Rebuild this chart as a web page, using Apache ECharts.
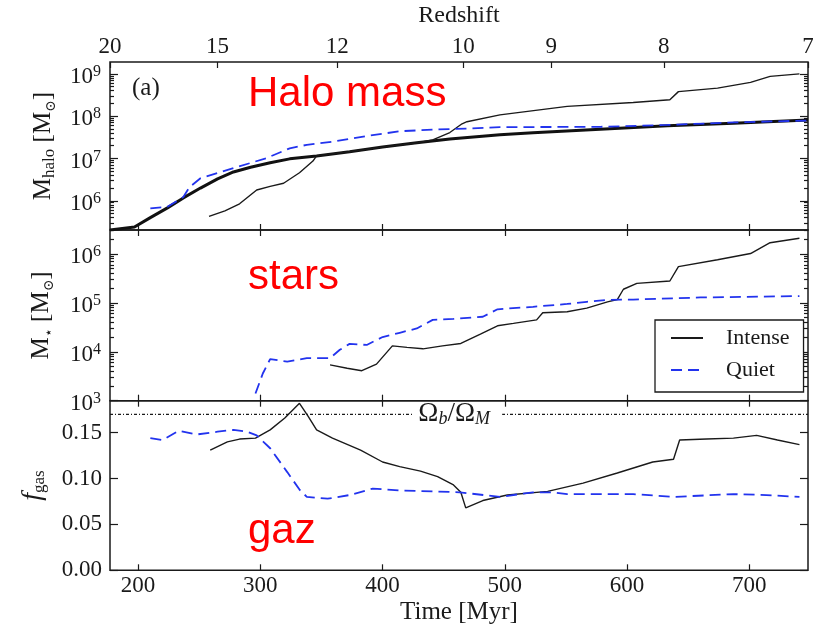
<!DOCTYPE html>
<html><head><meta charset="utf-8">
<script src="https://cdn.jsdelivr.net/npm/echarts@6/dist/echarts.min.js"></script>
<style>html,body{margin:0;padding:0;background:#fff}#c{width:813px;height:628px}</style>
</head><body><div id="c"></div>
<script>
// ---------- axis ticks ----------
const timeTicks = [200, 300, 400, 500, 600, 700];
const redshiftLabels = [20, 15, 12, 10, 9, 8, 7];
const redshiftTimes = [177, 265, 363, 466, 538, 630, 748];
const haloDecades = [6, 7, 8, 9];
const starDecades = [3, 4, 5, 6];
const gasTicks = [0, 0.05, 0.10, 0.15];
const OMEGA_RATIO = 0.17;

// ---------- panel (a): halo mass [Msun] ----------
const haloMeanTime = [177,197,210,224,237,251,265,278,292,308,324,346,373,400,428,455,496,523,578,633,687,748];
const haloMeanMass = [2.05e5,2.4e5,4.0e5,6.8e5,1.17e6,2.0e6,3.3e6,4.8e6,6.2e6,7.9e6,9.8e6,1.15e7,1.45e7,1.86e7,2.34e7,2.88e7,3.63e7,4.07e7,4.9e7,5.9e7,6.8e7,8.1e7];
const haloIntenseTime = [258,271,283,297,308,319,332,343,346,373,400,428,441,455,465,469,496,551,605,635,642,674,701,717,741];
const haloIntenseMass = [4.3e5,5.8e5,8.5e5,1.8e6,2.2e6,2.6e6,4.6e6,8.7e6,1.15e7,1.45e7,1.86e7,2.34e7,2.75e7,4.1e7,6.6e7,7.4e7,1.07e8,1.7e8,2.1e8,2.45e8,3.8e8,4.6e8,6.3e8,8.7e8,1.0e9];
const haloQuietTime = [210,224,237,242,251,278,305,324,338,359,387,414,441,469,496,578,633,687,748];
const haloQuietMass = [6.6e5,7.2e5,1.23e6,2.1e6,3.4e6,5.9e6,1.02e7,1.74e7,2.1e7,2.5e7,3.4e7,4.4e7,4.8e7,5.1e7,5.5e7,5.6e7,6.2e7,7.1e7,7.9e7];

// ---------- stellar mass [Msun] ----------
const starIntenseTime = [357,371,383,395,408,420,433,449,464,480,494,507,526,531,551,567,584,592,597,608,635,642,674,701,717,741];
const starIntenseMass = [5.4e3,4.6e3,4.1e3,5.6e3,1.32e4,1.23e4,1.15e4,1.32e4,1.48e4,2.3e4,3.4e4,3.8e4,4.5e4,6.3e4,6.6e4,7.8e4,1.05e5,1.17e5,1.9e5,2.5e5,2.8e5,5.5e5,7.6e5,1.02e6,1.7e6,2.1e6];
const starQuietTime = [296,302,308,322,338,357,365,373,387,400,414,428,441,458,482,494,523,551,567,584,605,660,741];
const starQuietMass = [1.4e3,3.6e3,7.1e3,6.3e3,7.4e3,7.4e3,1.1e4,1.45e4,1.38e4,2.0e4,2.45e4,3.0e4,4.5e4,4.7e4,5.2e4,7.4e4,8.3e4,9.5e4,1.05e5,1.15e5,1.17e5,1.29e5,1.38e5];

// ---------- gas fraction ----------
const gasIntenseTime = [259,273,283,296,308,320,332,339,346,359,382,400,414,431,445,458,464,468,482,502,535,564,592,621,638,643,665,687,706,723,741];
const gasIntenseFrac = [0.131,0.140,0.143,0.144,0.153,0.166,0.182,0.168,0.153,0.144,0.131,0.118,0.113,0.108,0.102,0.093,0.085,0.068,0.076,0.082,0.086,0.095,0.106,0.118,0.121,0.142,0.143,0.144,0.147,0.142,0.137];
const gasQuietTime = [210,220,233,248,265,278,289,297,308,322,332,338,355,373,392,414,441,463,496,523,539,551,605,638,687,714,741];
const gasQuietFrac = [0.144,0.142,0.152,0.148,0.151,0.153,0.151,0.147,0.133,0.107,0.088,0.080,0.078,0.082,0.089,0.087,0.086,0.085,0.080,0.085,0.085,0.083,0.083,0.080,0.083,0.082,0.080];

// ---------- build chart ----------
const X_MIN = 177, X_MAX = 748;
const SERIF = '"Liberation Serif","Times New Roman",serif';
const INK = '#1a1a1a';
const BLUE = '#2233ee';
const lg = v => Math.log10(v);
const pairs = (ts, vs, f) => ts.map((t, i) => [t, f ? f(vs[i]) : vs[i]]);
const minorLogs = decs => {
  const out = [];
  for (let n = decs[0] - 1; n <= decs[decs.length - 1]; n++)
    for (let k = 2; k <= 9; k++) out.push(Math.log10(k * Math.pow(10, n)));
  return out;
};

const tickStyle = {color: INK, width: 1.2};
const gridBase = {show: true, borderColor: INK, borderWidth: 1.5, backgroundColor: 'transparent', containLabel: false, outerBoundsMode: 'none'};
const grid = [
  Object.assign({left: 110, top: 62, width: 698, height: 168}, gridBase),
  Object.assign({left: 110, top: 230, width: 698, height: 170.7}, gridBase),
  Object.assign({left: 110, top: 400.7, width: 698, height: 169.6}, gridBase)
];
const yRanges = [[5.31, 9.28], [3, 6.49], [0, 0.1848]];

function xAx(gi, pos, extra) {
  return Object.assign({
    type: 'value', gridIndex: gi, position: pos, min: X_MIN, max: X_MAX,
    axisLine: {show: false, onZero: false},
    axisTick: {show: true, inside: true, length: 6, customValues: timeTicks, lineStyle: tickStyle},
    axisLabel: {show: false},
    splitLine: {show: false}
  }, extra || {});
}
const nameStyle = {
  color: INK, fontFamily: SERIF, fontSize: 24,
  rich: {
    n: {fontFamily: SERIF, fontSize: 25, color: INK, lineHeight: 30},
    sub: {fontFamily: SERIF, fontSize: 17, color: INK, lineHeight: 20, verticalAlign: 'bottom'},
    f: {fontFamily: SERIF, fontSize: 28, fontStyle: 'italic', color: INK, lineHeight: 30},
    sym: {fontFamily: '"DejaVu Serif",serif', fontSize: 14, color: INK, lineHeight: 20, verticalAlign: 'bottom'}
  }
};
const powLabel = {
  show: true, margin: 9, padding: [6, 0, 0, 0],
  formatter: v => '{b|10}{s|' + Math.round(v) + '}',
  rich: {
    b: {fontFamily: SERIF, fontSize: 23, color: INK, lineHeight: 26},
    s: {fontFamily: SERIF, fontSize: 16, color: INK, lineHeight: 12, verticalAlign: 'top'}
  }
};
function yAx(gi, pos, range, ticks, len, label, extra) {
  return Object.assign({
    type: 'value', gridIndex: gi, position: pos, min: range[0], max: range[1],
    axisLine: {show: false, onZero: false},
    axisTick: {show: true, inside: true, length: len, customValues: ticks, lineStyle: tickStyle},
    axisLabel: label ? Object.assign({customValues: ticks}, label) : {show: false},
    splitLine: {show: false}
  }, extra || {});
}
const nearestZ = v => {
  let bi = 0;
  redshiftTimes.forEach((t, i) => { if (Math.abs(t - v) < Math.abs(redshiftTimes[bi] - v)) bi = i; });
  return String(redshiftLabels[bi]);
};

const xAxis = [
  xAx(0, 'bottom'),
  xAx(0, 'top', {
    axisTick: {show: true, inside: true, length: 6, customValues: redshiftTimes, lineStyle: tickStyle},
    axisLabel: {show: true, customValues: redshiftTimes, formatter: nearestZ, margin: 4, fontFamily: SERIF, fontSize: 23, color: INK},
    name: 'Redshift', nameLocation: 'middle', nameGap: 34,
    nameTextStyle: {fontFamily: SERIF, fontSize: 24, color: INK}
  }),
  xAx(1, 'bottom'),
  xAx(1, 'top'),
  xAx(2, 'bottom', {
    axisLabel: {show: true, customValues: timeTicks, formatter: v => String(Math.round(v)), margin: 4, fontFamily: SERIF, fontSize: 23, color: INK},
    name: 'Time [Myr]', nameLocation: 'middle', nameGap: 30,
    nameTextStyle: {fontFamily: SERIF, fontSize: 25, color: INK}
  }),
  xAx(2, 'top')
];

const yAxis = [
  yAx(0, 'left', yRanges[0], haloDecades, 8, powLabel, {
    name: '{n|M}{sub|halo}{n| [M}{sym|⊙}{n|]}', nameLocation: 'middle', nameRotate: 90, nameGap: 52, nameTextStyle: nameStyle
  }),
  yAx(0, 'left', yRanges[0], minorLogs(haloDecades), 4, null),
  yAx(0, 'right', yRanges[0], haloDecades, 8, null),
  yAx(0, 'right', yRanges[0], minorLogs(haloDecades), 4, null),
  yAx(1, 'left', yRanges[1], starDecades, 8, powLabel, {
    name: '{n|M}{sym|⋆}{n| [M}{sym|⊙}{n|]}', nameLocation: 'middle', nameRotate: 90, nameGap: 54, nameTextStyle: nameStyle
  }),
  yAx(1, 'left', yRanges[1], minorLogs(starDecades), 4, null),
  yAx(1, 'right', yRanges[1], starDecades, 8, null),
  yAx(1, 'right', yRanges[1], minorLogs(starDecades), 4, null),
  yAx(2, 'left', yRanges[2], gasTicks, 8, {
    show: true, margin: 8, formatter: v => v.toFixed(2), fontFamily: SERIF, fontSize: 23, color: INK
  }, {
    name: '{f|f}{sub|gas}', nameLocation: 'middle', nameRotate: 90, nameGap: 62, nameTextStyle: nameStyle
  }),
  yAx(2, 'right', yRanges[2], gasTicks, 8, null)
];

function line(name, xi, yi, data, color, width, dash, z) {
  return {
    type: 'line', name, xAxisIndex: xi, yAxisIndex: yi, data, symbol: 'none', smooth: false,
    lineStyle: {color, width, type: dash || 'solid'}, itemStyle: {color}, z: z || 2,
    animation: false, silent: true
  };
}
const DASH = [11, 6];

const series = [
  line('Mean halo', 0, 0, pairs(haloMeanTime, haloMeanMass, lg), '#111', 3, null, 2),
  line('Intense', 0, 0, pairs(haloIntenseTime, haloIntenseMass, lg), INK, 1.4, null, 3),
  line('Quiet', 0, 0, pairs(haloQuietTime, haloQuietMass, lg), BLUE, 1.8, DASH, 4),
  line('Intense', 2, 4, pairs(starIntenseTime, starIntenseMass, lg), INK, 1.4, null, 3),
  line('Quiet', 2, 4, pairs(starQuietTime, starQuietMass, lg), BLUE, 1.8, DASH, 4),
  line('Intense', 4, 8, pairs(gasIntenseTime, gasIntenseFrac), INK, 1.4, null, 3),
  line('Quiet', 4, 8, pairs(gasQuietTime, gasQuietFrac), BLUE, 1.8, DASH, 4),
  Object.assign(line('Omega', 4, 8, [[X_MIN, OMEGA_RATIO], [X_MAX, OMEGA_RATIO]], INK, 1.2, [3, 2, 1, 2], 2), {
    markPoint: {
      silent: true, animation: false, symbol: 'rect', symbolSize: [90, 20],
      itemStyle: {color: '#fff'},
      label: {
        show: true, position: 'inside', offset: [-3, 0],
        formatter: '{o|Ω}{s|b}{o|/Ω}{s|M}',
        rich: {
          o: {fontFamily: SERIF, fontSize: 27, color: INK, lineHeight: 28},
          s: {fontFamily: SERIF, fontSize: 18, fontStyle: 'italic', color: INK, lineHeight: 18, verticalAlign: 'bottom'}
        }
      },
      data: [{coord: [461, OMEGA_RATIO]}]
    }
  })
];

const RED_FONT = '42px "Liberation Sans", Arial, sans-serif';
const option = {
  animation: false,
  backgroundColor: '#fff',
  grid, xAxis, yAxis, series,
  legend: {
    show: true, orient: 'vertical', left: 655, top: 320, data: ['Intense', 'Quiet'],
    itemWidth: 32, itemHeight: 12, itemGap: 10, selectedMode: false,
    itemStyle: {opacity: 0},
    borderColor: INK, borderWidth: 1.3, padding: [7, 14, 11, 15], backgroundColor: '#fff',
    textStyle: {fontFamily: SERIF, fontSize: 22, color: INK, padding: [0, 0, 0, 18]}
  },
  graphic: [
    {type: 'text', x: 248, y: 94, silent: true, style: {text: 'Halo mass', fill: '#ff0000', font: RED_FONT, verticalAlign: 'middle'}},
    {type: 'text', x: 248, y: 277, silent: true, style: {text: 'stars', fill: '#ff0000', font: RED_FONT, verticalAlign: 'middle'}},
    {type: 'text', x: 248, y: 531, silent: true, style: {text: 'gaz', fill: '#ff0000', font: RED_FONT, verticalAlign: 'middle'}},
    {type: 'text', x: 132, y: 88, silent: true, style: {text: '(a)', fill: INK, font: '25px "Liberation Serif", serif', verticalAlign: 'middle'}}
  ]
};
const chart = echarts.init(document.getElementById('c'), null, {renderer: 'canvas'});
chart.setOption(option);
</script>
</body></html>
